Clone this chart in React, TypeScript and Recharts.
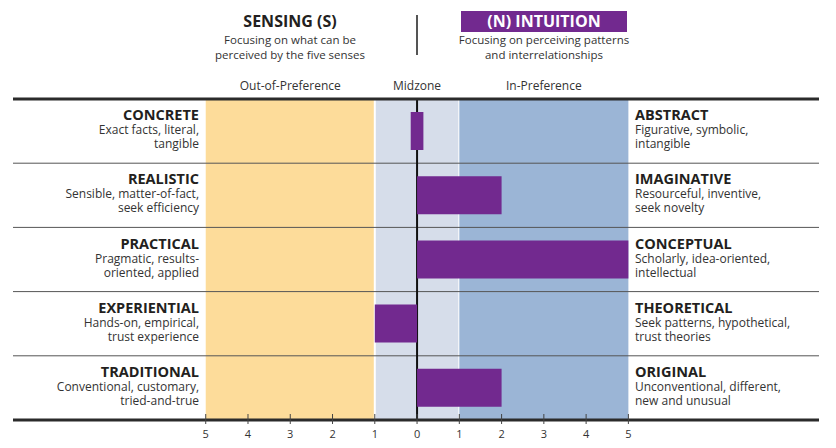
import React from "react";
import { Bar, BarChart, CartesianGrid, ReferenceArea, ReferenceLine, XAxis, YAxis } from "recharts";

const FONT = "'Open Sans', sans-serif";
const PURPLE = "#72298f";
const INK = "#231f20";
const TEXT = "#333333";
const RULE = "#2b2b2b";

// row labels (left = Sensing facet pole, right = Intuition facet pole)
const leftTitles = ["CONCRETE", "REALISTIC", "PRACTICAL", "EXPERIENTIAL", "TRADITIONAL"];
const leftDesc = [
  ["Exact facts, literal,", "tangible"],
  ["Sensible, matter-of-fact,", "seek efficiency"],
  ["Pragmatic, results-", "oriented, applied"],
  ["Hands-on, empirical,", "trust experience"],
  ["Conventional, customary,", "tried-and-true"]
];
const rightTitles = ["ABSTRACT", "IMAGINATIVE", "CONCEPTUAL", "THEORETICAL", "ORIGINAL"];
const rightDesc = [
  ["Figurative, symbolic,", "intangible"],
  ["Resourceful, inventive,", "seek novelty"],
  ["Scholarly, idea-oriented,", "intellectual"],
  ["Seek patterns, hypothetical,", "trust theories"],
  ["Unconventional, different,", "new and unusual"]
];

// facet scores, drawn as a bar from -> to on the -5..5 scale
const scoreFrom = [-0.15, 0, 0, -1, 0];
const scoreTo = [0.15, 2, 5, 0, 2];

const scaleTicks = [-5, -4, -3, -2, -1, 0, 1, 2, 3, 4, 5];

const zoneFrom = [-5, -1, 1];
const zoneTo = [-1, 1, 5];
const zoneLabels = ["Out-of-Preference", "Midzone", "In-Preference"];
const ZONE_COLORS = ["#fddc9a", "#d6ddea", "#9bb5d6"];

// plot spans the full ruled width; the -5..5 scale sits in the middle
const AXIS_DOMAIN: [number, number] = [-9.56, 9.51];

const data = leftTitles.map((name, i) => ({ name, range: [scoreFrom[i], scoreTo[i]] }));

// row separators sit on the band edges of the category axis
const rowEdges = ({ offset }: any) =>
  data.slice(1).map((_, i) => offset.top + (offset.height * (i + 1)) / data.length);

function RowLabel(props: any) {
  const { y, payload } = props;
  const i = leftTitles.indexOf(payload.value);
  if (i < 0) return null;
  return (
    <g fontFamily={FONT}>
      <text x={199} y={y - 11} textAnchor="end" fontSize={14.5} fontWeight={700} fill={INK}>
        {leftTitles[i]}
      </text>
      <text x={199} y={y + 3} textAnchor="end" fontSize={12} fill={TEXT}>
        {leftDesc[i][0]}
      </text>
      <text x={199} y={y + 17} textAnchor="end" fontSize={12} fill={TEXT}>
        {leftDesc[i][1]}
      </text>
      <text x={635} y={y - 11} textAnchor="start" fontSize={14.5} fontWeight={700} fill={INK}>
        {rightTitles[i]}
      </text>
      <text x={635} y={y + 3} textAnchor="start" fontSize={12} fill={TEXT}>
        {rightDesc[i][0]}
      </text>
      <text x={635} y={y + 17} textAnchor="start" fontSize={12} fill={TEXT}>
        {rightDesc[i][1]}
      </text>
    </g>
  );
}

function ScaleTick(props: any) {
  const { x, y, payload } = props;
  return (
    <g>
      <line x1={x} x2={x} y1={y - 6} y2={y + 4} stroke="#444" strokeWidth={1} />
      <text x={x} y={y + 18} textAnchor="middle" fontSize={11} fontFamily={FONT} fill={TEXT}>
        {Math.abs(payload.value)}
      </text>
    </g>
  );
}

function Header() {
  return (
    <svg width={836} height={70} style={{ position: "absolute", left: 0, top: 0 }} fontFamily={FONT}>
      <text x={290} y={27} textAnchor="middle" fontSize={16} fontWeight={700} fill={INK}>
        SENSING (S)
      </text>
      <text x={290} y={44} textAnchor="middle" fontSize={11.5} fill={TEXT}>
        Focusing on what can be
      </text>
      <text x={290} y={58.5} textAnchor="middle" fontSize={11.5} fill={TEXT}>
        perceived by the five senses
      </text>
      <line x1={417} x2={417} y1={15} y2={55} stroke="#555" strokeWidth={2} />
      <rect x={461} y={11} width={166} height={21} fill={PURPLE} />
      <text x={544} y={27} textAnchor="middle" fontSize={16} fontWeight={700} fill="#fff">
        (N) INTUITION
      </text>
      <text x={544} y={44} textAnchor="middle" fontSize={11.5} fill={TEXT}>
        Focusing on perceiving patterns
      </text>
      <text x={544} y={58.5} textAnchor="middle" fontSize={11.5} fill={TEXT}>
        and interrelationships
      </text>
    </svg>
  );
}

export default function App() {
  return (
    <div style={{ position: "absolute", left: 0, top: 0, width: 836, height: 448, background: "#fff" }}>
      <BarChart
        width={836}
        height={448}
        data={data}
        layout="vertical"
        barSize={38}
        margin={{ top: 98, right: 17, bottom: 0, left: 12 }}
        style={{ fontFamily: FONT }}
      >
        {zoneLabels.map((label, i) => (
          <ReferenceArea
            key={label}
            x1={zoneFrom[i]}
            x2={zoneTo[i]}
            fill={ZONE_COLORS[i]}
            fillOpacity={1}
            stroke={i === 1 ? "#fff" : "none"}
            strokeWidth={2}
            ifOverflow="visible"
            zIndex={-300}
            label={{ value: label, position: "top", offset: 9, fontSize: 12, fill: TEXT }}
          />
        ))}
        <CartesianGrid
          vertical={false}
          stroke="#555"
          strokeWidth={1}
          zIndex={-200}
          horizontalCoordinatesGenerator={rowEdges}
        />
        <ReferenceLine x={0} stroke="#111" strokeWidth={2} zIndex={250} />
        <XAxis
          xAxisId="top"
          orientation="top"
          type="number"
          domain={AXIS_DOMAIN}
          allowDataOverflow
          height={1}
          tick={false}
          tickLine={false}
          axisLine={{ stroke: RULE, strokeWidth: 3 }}
        />
        <XAxis
          type="number"
          domain={AXIS_DOMAIN}
          allowDataOverflow
          ticks={scaleTicks}
          interval={0}
          height={28}
          tickSize={0}
          tickMargin={0}
          tickLine={false}
          tick={<ScaleTick />}
          axisLine={{ stroke: RULE, strokeWidth: 3 }}
        />
        <YAxis
          type="category"
          dataKey="name"
          width={1}
          interval={0}
          tickSize={0}
          tickMargin={0}
          tickLine={false}
          axisLine={false}
          tick={<RowLabel />}
        />
        <Bar dataKey="range" fill={PURPLE} isAnimationActive={false} />
      </BarChart>
      <Header />
    </div>
  );
}
